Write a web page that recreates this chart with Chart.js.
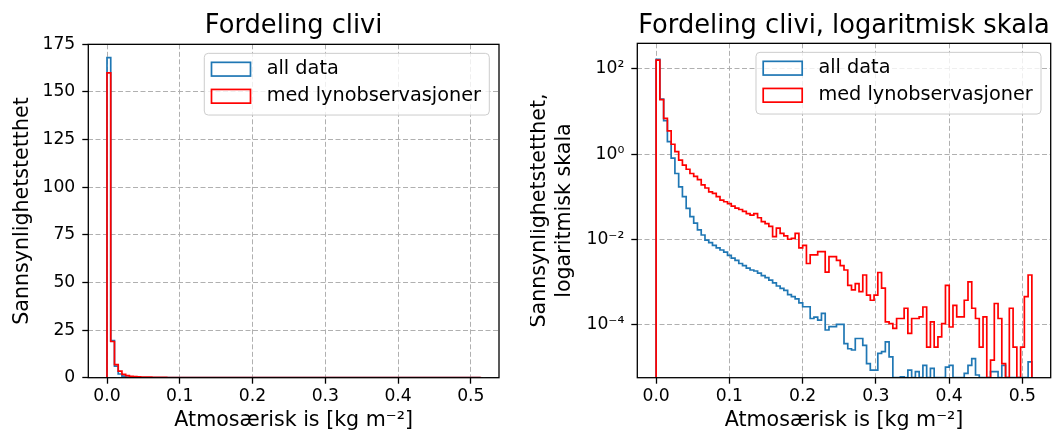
<!DOCTYPE html>
<html>
<head>
<meta charset="utf-8">
<script src="https://cdn.jsdelivr.net/npm/chart.js@4.4.0/dist/chart.umd.min.js"></script>
<style>
  body { margin: 0; background: #fff; }
  canvas { position: absolute; top: 0; }
</style>
</head>
<body>
<canvas id="linChart" width="530" height="432" style="left:0"></canvas>
<canvas id="logChart" width="527" height="432" style="left:530px"></canvas>
<script>
// histogram densities, 100 bins starting at 0
const binWidth = 0.00513;

const allData = [
  168, 19.5, 6.1, 1.95, 0.8, 0.35, 0.17, 0.1, 0.053, 0.034,
  0.024, 0.0166, 0.0126, 0.0095, 0.0083, 0.0072, 0.0063, 0.0056, 0.005, 0.0042,
  0.0036, 0.0032, 0.0027, 0.0024, 0.0021, 0.0019, 0.0018, 0.0016, 0.0014, 0.00126,
  0.0011, 0.00095, 0.0008, 0.0007, 0.00063, 0.0005, 0.00045, 0.0004, 0.00032, 0.00026,
  0.00026, 0.000138, 0.000148, 0.000126, 0.000182, 0.000074, 0.000089, 0.000089, 0.0001, 0.0001,
  0.0000355, 0.0000269, 0.0000251, 0.0000468, 0.0000468, 0.0000324, 0.000012, 0.0000085, 0.0000085, 0.0000209,
  0.0000229, 0.0000389, 0.0000174, 0, 0, 0.0000059, 0, 0.0000085, 0, 0.0000078,
  0, 0.000011, 0, 0.0000093, 0, 0, 0, 0.00001, 0.000011, 0,
  0, 0, 0.0000071, 0.000011, 0.0000158, 0.0000065, 0, 0, 0, 0.0000078,
  0.0000078, 0, 0.000011, 0, 0, 0, 0, 0, 0, 0.0000132
];

const withLightning = [
  160, 19, 6.9, 3.5, 1.7, 1.14, 0.72, 0.55, 0.44, 0.35,
  0.3, 0.25, 0.19, 0.16, 0.13, 0.12, 0.1, 0.083, 0.076, 0.069,
  0.06, 0.054, 0.05, 0.045, 0.04, 0.037, 0.04, 0.032, 0.026, 0.0234,
  0.02, 0.0115, 0.0182, 0.0138, 0.012, 0.01, 0.0105, 0.0138, 0.0063, 0.0072,
  0.0027, 0.0043, 0.0043, 0.0051, 0.0051, 0.0017, 0.0039, 0.0039, 0.0032, 0.0024,
  0.0019, 0.00083, 0.00065, 0.00091, 0.00059, 0.00145, 0.00049, 0.00037, 0.00049, 0.00166,
  0.00071, 0.000115, 0.000105, 0.000081, 0.000138, 0.000138, 0.00024, 0.000062, 0.000138, 0.000138,
  0.000151, 0.000257, 0.0000295, 0.000115, 0.0000295, 0.0000513, 0.000105, 0.00083, 0.000087, 0.00028,
  0.000151, 0.000151, 0.00037, 0.001, 0.00024, 0.000138, 0.0000295, 0.000151, 0, 0.0000145,
  0.00031, 0.000138, 0.000012, 0, 0.00024, 0.0000295, 0, 0.0000295, 0.00045, 0.00145
];

const seriesNames = ['all data', 'med lynobservasjoner'];
const seriesColors = ['#1f77b4', '#ff0000'];

const xTickValues = [0, 0.1, 0.2, 0.3, 0.4, 0.5];
const linTickValues = [0, 25, 50, 75, 100, 125, 150, 175];
const logTickValues = [1e-4, 1e-2, 1, 1e2];
const logTickLabels = ['10⁻⁴', '10⁻²', '10⁰', '10²'];

const LOG_MIN = 5.62e-6, LOG_MAX = 398;
const FONT = 'DejaVu Sans';

// outline of a step histogram: up at the first edge, across each bin, down at the last edge.
// empty bins sit on the axis floor (0 on linear, the axis minimum on log)
function stepPoints(values, floor) {
  const pts = [{ x: 0, y: floor }];
  values.forEach((v, i) => pts.push({ x: (i + 1) * binWidth, y: v > 0 ? v : floor }));
  pts.push({ x: values.length * binWidth, y: floor });
  return pts;
}

const frame = {
  id: 'frame',
  afterDatasetsDraw(chart) {
    const { ctx, chartArea: a } = chart;
    ctx.save();
    ctx.strokeStyle = '#000';
    ctx.lineWidth = 1.3;
    ctx.strokeRect(a.left, a.top, a.right - a.left, a.bottom - a.top);
    ctx.restore();
  }
};

// legend box inside the plot, upper right
const boxLegend = {
  id: 'boxLegend',
  afterDraw(chart) {
    const { ctx, chartArea: a } = chart;
    const sets = chart.data.datasets;
    ctx.save();
    ctx.font = '19.3px "' + FONT + '"';
    const textW = Math.max(...sets.map(d => ctx.measureText(d.label).width));
    const w = 62.4 + textW + 8.3, h = 61.7;
    const x = a.right - 9.7 - w, y = a.top + 9;
    ctx.beginPath();
    ctx.roundRect(x, y, w, h, 4);
    ctx.fillStyle = 'rgba(255,255,255,0.8)';
    ctx.fill();
    ctx.strokeStyle = '#cccccc';
    ctx.lineWidth = 1;
    ctx.stroke();
    sets.forEach((d, i) => {
      const cy = y + 15.9 + i * 27.1;
      ctx.strokeStyle = d.borderColor;
      ctx.lineWidth = 1.7;
      ctx.strokeRect(x + 7.2, cy - 6.9, 39, 13.7);
      ctx.fillStyle = '#000';
      ctx.textBaseline = 'middle';
      ctx.fillText(d.label, x + 62.4, cy);
    });
    ctx.restore();
  }
};

const gridOpts = { color: '#b0b0b0', lineWidth: 1, tickLength: 6, tickColor: '#000', tickWidth: 1.3 };
const borderOpts = { display: false, dash: [5, 2.5] };
const tickFont = { family: FONT, size: 17.2 };
const labelFont = { family: FONT, size: 20.6, lineHeight: 1.2 };

function makeChart(id, opts) {
  return new Chart(document.getElementById(id), {
    type: 'line',
    data: {
      datasets: [
        { label: seriesNames[0], data: stepPoints(allData, opts.floor), borderColor: seriesColors[0], order: 1 },
        { label: seriesNames[1], data: stepPoints(withLightning, opts.floor), borderColor: seriesColors[1], order: 0 }
      ].map(d => Object.assign(d, {
        backgroundColor: 'transparent', borderWidth: 1.7, pointRadius: 0,
        stepped: 'after', fill: false, tension: 0, borderJoinStyle: 'miter'
      }))
    },
    options: {
      responsive: false,
      animation: false,
      events: [],
      layout: { padding: opts.padding },
      plugins: {
        legend: { display: false },
        tooltip: { enabled: false },
        title: {
          display: true, text: opts.title, fullSize: false, color: '#000',
          font: { family: FONT, size: 25.7, weight: 'normal', lineHeight: 1.2 },
          padding: opts.titlePadding
        }
      },
      scales: {
        x: {
          type: 'linear', min: -0.0257, max: 0.5387,
          afterBuildTicks: s => { s.ticks = xTickValues.map(v => ({ value: v })); },
          afterFit: s => { s.height = 54.3; },
          ticks: { callback: v => v.toFixed(1), color: '#000', font: tickFont, padding: 3, maxRotation: 0 },
          grid: gridOpts, border: borderOpts,
          title: {
            display: true, text: 'Atmosærisk is [kg m⁻²]', color: '#000',
            font: { family: FONT, size: 20.6, lineHeight: 1 }, padding: { top: 0, bottom: 1 }
          }
        },
        y: Object.assign({
          afterFit: s => { s.width = opts.yWidth; },
          ticks: Object.assign({ color: '#000', font: tickFont, padding: 7 }, opts.yTicks),
          grid: gridOpts, border: borderOpts,
          title: { display: true, text: opts.yTitle, color: '#000', font: labelFont, padding: opts.yTitlePadding }
        }, opts.yScale)
      }
    },
    plugins: [frame, boxLegend]
  });
}

makeChart('linChart', {
  title: 'Fordeling clivi',
  floor: 0,
  padding: { left: 0, right: 31, top: 0, bottom: 0 },
  titlePadding: { top: 11, bottom: 2.5 },
  yWidth: 88.3,
  yTitle: 'Sannsynlighetstetthet',
  yTitlePadding: { top: 10, bottom: 0 },
  yScale: {
    type: 'linear', min: 0, max: 175,
    afterBuildTicks: s => { s.ticks = linTickValues.map(v => ({ value: v })); }
  },
  yTicks: { callback: v => String(v) }
});

makeChart('logChart', {
  title: 'Fordeling clivi, logaritmisk skala',
  floor: LOG_MIN,
  padding: { left: 0, right: 6.3, top: 0, bottom: 0 },
  titlePadding: { top: 11, bottom: 1.5 },
  yWidth: 107.3,
  yTitle: ['Sannsynlighetstetthet,', 'logaritmisk skala'],
  yTitlePadding: { top: -2.5, bottom: 0 },
  yScale: {
    type: 'logarithmic', min: LOG_MIN, max: LOG_MAX,
    afterBuildTicks: s => { s.ticks = logTickValues.map(v => ({ value: v })); }
  },
  yTicks: { callback: v => logTickLabels[logTickValues.indexOf(v)] }
});
</script>
</body>
</html>
